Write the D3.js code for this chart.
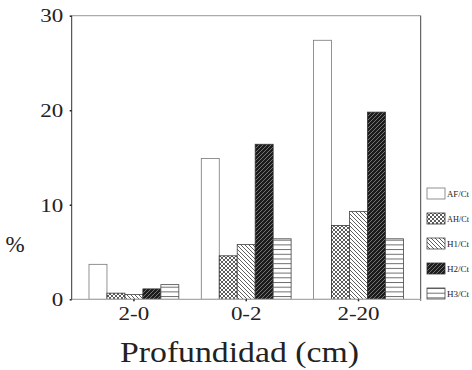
<!DOCTYPE html>
<html>
<head>
<meta charset="utf-8">
<script src="https://cdn.jsdelivr.net/npm/d3@7"></script>
<style>
  body { margin: 0; background: #fff; }
  svg { display: block; }
  text { font-family: "Liberation Serif", "Times New Roman", "DejaVu Serif", serif; fill: #222; }
</style>
</head>
<body>
<div id="chart"></div>
<script>
// data
var categories = ["2-0", "0-2", "2-20"];
var series = ["AF/Ct", "AH/Ct", "H1/Ct", "H2/Ct", "H3/Ct"];
var afValues = [3.7, 14.9, 27.4];
var ahValues = [0.65, 4.6, 7.8];
var h1Values = [0.5, 5.8, 9.3];
var h2Values = [1.1, 16.4, 19.8];
var h3Values = [1.55, 6.4, 6.4];
var yTicks = [0, 10, 20, 30];

var values = [afValues, ahValues, h1Values, h2Values, h3Values];

var width = 472, height = 370;
var plotLeft = 71.7, plotRight = 420.7, plotTop = 15.7, plotBottom = 299.3;
var stretch = 1.18; // the original type is drawn a bit wide

var svg = d3.select("#chart").append("svg")
    .attr("width", width)
    .attr("height", height);

//patterns
var defs = svg.append("defs");

var cross = defs.append("pattern").attr("id", "pAH")
    .attr("patternUnits", "userSpaceOnUse").attr("width", 4).attr("height", 4);
cross.append("rect").attr("width", 4).attr("height", 4).attr("fill", "#fff");
cross.append("path").attr("d", "M0,0L4,4M4,0L0,4")
    .attr("stroke", "#333").attr("stroke-width", 0.8);

var back = defs.append("pattern").attr("id", "pH1")
    .attr("patternUnits", "userSpaceOnUse").attr("width", 4).attr("height", 4);
back.append("rect").attr("width", 4).attr("height", 4).attr("fill", "#fff");
back.append("path").attr("d", "M-1,-1L5,5M-1,3L1,5M3,-1L5,1")
    .attr("stroke", "#333").attr("stroke-width", 0.8);

var fwd = defs.append("pattern").attr("id", "pH2")
    .attr("patternUnits", "userSpaceOnUse").attr("width", 4).attr("height", 4);
fwd.append("rect").attr("width", 4).attr("height", 4).attr("fill", "#1c1c1c");
fwd.append("path").attr("d", "M-1,5L5,-1M-1,1L1,-1M3,5L5,3")
    .attr("stroke", "#9a9a9a").attr("stroke-width", 0.7);

var horiz = defs.append("pattern").attr("id", "pH3")
    .attr("patternUnits", "userSpaceOnUse").attr("width", 4).attr("height", 4.7);
horiz.append("rect").attr("width", 4).attr("height", 4.7).attr("fill", "#fff");
horiz.append("path").attr("d", "M0,0.5L4,0.5")
    .attr("stroke", "#444").attr("stroke-width", 0.8);

var fills = ["#fff", "url(#pAH)", "url(#pH1)", "url(#pH2)", "url(#pH3)"];
var strokes = ["#777", "#333", "#444", "#333", "#444"];

//scales
var x0 = d3.scaleBand().domain(categories)
    .range([plotLeft, plotRight]).paddingInner(0.2).paddingOuter(0.154);
var x1 = d3.scaleBand().domain(series).range([0, x0.bandwidth()]);
var y = d3.scaleLinear().domain([0, 30]).range([plotBottom, plotTop]);

//frame: grey top and baseline, dark sides
svg.append("line").attr("x1", plotLeft).attr("x2", plotRight)
    .attr("y1", plotTop).attr("y2", plotTop)
    .attr("stroke", "#aaa").attr("stroke-width", 1.3);
svg.append("line").attr("x1", plotRight).attr("x2", plotRight)
    .attr("y1", plotTop).attr("y2", plotBottom + 1.5)
    .attr("stroke", "#444").attr("stroke-width", 1);

//bars
var rows = [];
categories.forEach(function (c, i) {
    series.forEach(function (s, j) {
        rows.push({cat: c, s: s, j: j, v: values[j][i]});
    });
});

svg.append("g").selectAll("rect")
    .data(rows)
    .enter().append("rect")
    .attr("x", function (d) { return x0(d.cat) + x1(d.s); })
    .attr("y", function (d) { return y(d.v); })
    .attr("width", x1.bandwidth())
    .attr("height", function (d) { return y(0) - y(d.v); })
    .attr("fill", function (d) { return fills[d.j]; })
    .attr("stroke", function (d) { return strokes[d.j]; })
    .attr("stroke-width", 0.8);

svg.append("line").attr("x1", plotLeft).attr("x2", plotRight)
    .attr("y1", plotBottom).attr("y2", plotBottom)
    .attr("stroke", "#aaa").attr("stroke-width", 1.3);

//axes
var yAxis = d3.axisLeft(y).tickValues(yTicks).tickSize(2).tickPadding(7);
var gy = svg.append("g")
    .attr("transform", "translate(" + plotLeft + ",0)")
    .call(yAxis);
gy.attr("font-family", null);
gy.select(".domain").attr("stroke", "#333").attr("d", "M0," + plotTop + "V" + plotBottom);
gy.selectAll(".tick line").attr("stroke", "#222").attr("stroke-width", 1.5);
gy.selectAll(".tick text")
    .attr("font-size", 19.5)
    .attr("fill", "#222")
    .attr("x", -8.5 / stretch)
    .attr("transform", "scale(" + stretch + ",1)");

var xAxis = d3.axisBottom(x0).tickSize(2).tickPadding(5);
var gx = svg.append("g")
    .attr("transform", "translate(0," + plotBottom + ")")
    .call(xAxis);
gx.attr("font-family", null);
gx.select(".domain").remove();
gx.selectAll(".tick line").attr("stroke", "#222").attr("stroke-width", 1.5);
gx.selectAll(".tick text")
    .attr("font-size", 19.5)
    .attr("fill", "#222")
    .attr("transform", "scale(" + stretch + ",1)");

//titles
svg.append("text").attr("x", 15).attr("y", 252)
    .attr("text-anchor", "middle").attr("font-size", 23).text("%");
svg.append("text").attr("x", 239.5).attr("y", 362)
    .attr("text-anchor", "middle").attr("font-size", 28.5)
    .attr("textLength", 239).attr("lengthAdjust", "spacingAndGlyphs")
    .text("Profundidad (cm)");

//legend
var legend = svg.append("g").selectAll("g")
    .data(series)
    .enter().append("g")
    .attr("transform", function (d, i) { return "translate(427," + (188 + i * 25) + ")"; });
legend.append("rect")
    .attr("width", 18).attr("height", 11)
    .attr("fill", function (d, i) { return fills[i]; })
    .attr("stroke", function (d, i) { return strokes[i]; })
    .attr("stroke-width", 0.8);
legend.append("text")
    .attr("x", 20).attr("y", 9)
    .attr("font-size", 9)
    .attr("textLength", 22)
    .attr("lengthAdjust", "spacingAndGlyphs")
    .text(function (d) { return d; });
</script>
</body>
</html>
